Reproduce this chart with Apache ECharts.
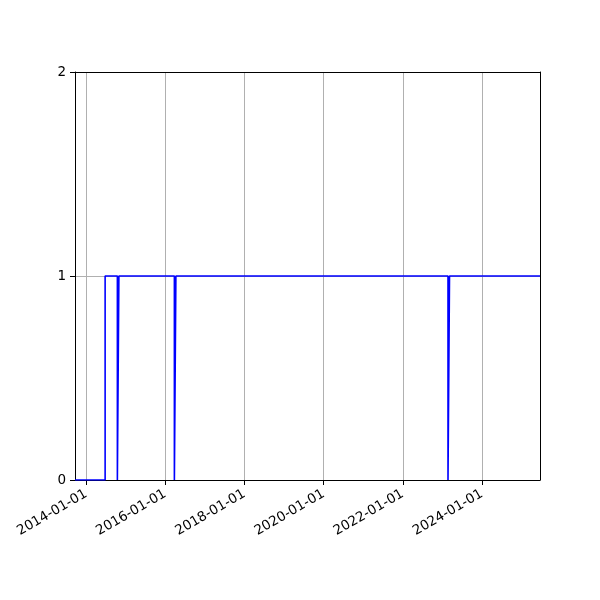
<!DOCTYPE html>
<html>
<head>
<meta charset="utf-8">
<script src="https://cdn.jsdelivr.net/npm/echarts@6/dist/echarts.min.js"></script>
<style>html,body{margin:0;padding:0;background:#fff}#c{width:600px;height:600px}</style>
</head>
<body>
<div id="c"></div>
<script>
var dates = ['2013-09-20','2014-06-25','2014-10-16','2014-10-30','2016-03-25','2016-04-08','2023-02-22','2023-03-08','2025-06-20'];
var values = [0,1,0,1,0,1,0,1,1];
var xTickLabels = ['2014-01-01','2016-01-01','2018-01-01','2020-01-01','2022-01-01','2024-01-01'];
var yTicks = [0,1,2];

function ts(s){var p=s.split('-');return Date.UTC(+p[0],+p[1]-1,+p[2]);}
function pad(n){return (n<10?'0':'')+n;}
function fmt(v){var d=new Date(v);return d.getUTCFullYear()+'-'+pad(d.getUTCMonth()+1)+'-'+pad(d.getUTCDate());}

var xTicks = xTickLabels.map(ts);
var seriesData = dates.map(function(d,i){return [ts(d), values[i]];});
var xMin = ts(dates[0]), xMax = ts(dates[dates.length-1]);

var chart = echarts.init(document.getElementById('c'), null, {renderer:'canvas'});
chart.setOption({
  animation:false,
  backgroundColor:'#fff',
  grid:{left:75,right:60,top:72,bottom:120},
  xAxis:[{
    type:'value',
    min:xMin,
    max:xMax,
    axisLine:{show:true,onZero:false,lineStyle:{color:'#000',width:1}},
    axisTick:{show:true,length:5,lineStyle:{color:'#000'},customValues:xTicks},
    axisLabel:{show:true,customValues:xTicks,rotate:30,color:'#000',fontSize:13.5,fontFamily:'DejaVu Sans',margin:13,formatter:function(v){return fmt(v);}},
    splitLine:{show:true,lineStyle:{color:'#b0b0b0',width:1}}
  },{
    type:'value',
    position:'top',
    min:xMin,
    max:xMax,
    axisLine:{show:true,onZero:false,lineStyle:{color:'#000',width:1}},
    axisTick:{show:false},
    axisLabel:{show:false},
    splitLine:{show:false}
  }],
  yAxis:[{
    type:'value',
    min:yTicks[0],
    max:yTicks[yTicks.length-1],
    interval:1,
    axisLine:{show:true,lineStyle:{color:'#000',width:1}},
    axisTick:{show:true,length:5,lineStyle:{color:'#000'}},
    axisLabel:{color:'#000',fontSize:13.5,fontFamily:'DejaVu Sans',margin:9},
    splitLine:{show:true,lineStyle:{color:'#b0b0b0',width:1}}
  },{
    type:'value',
    position:'right',
    min:yTicks[0],
    max:yTicks[yTicks.length-1],
    interval:1,
    axisLine:{show:true,onZero:false,lineStyle:{color:'#000',width:1}},
    axisTick:{show:false},
    axisLabel:{show:false},
    splitLine:{show:false}
  }],
  series:[{
    type:'line',
    step:'end',
    data:seriesData,
    showSymbol:false,
    symbol:'none',
    lineStyle:{color:'#0000ff',width:1.6},
    itemStyle:{color:'#0000ff'}
  }]
});
</script>
</body>
</html>
